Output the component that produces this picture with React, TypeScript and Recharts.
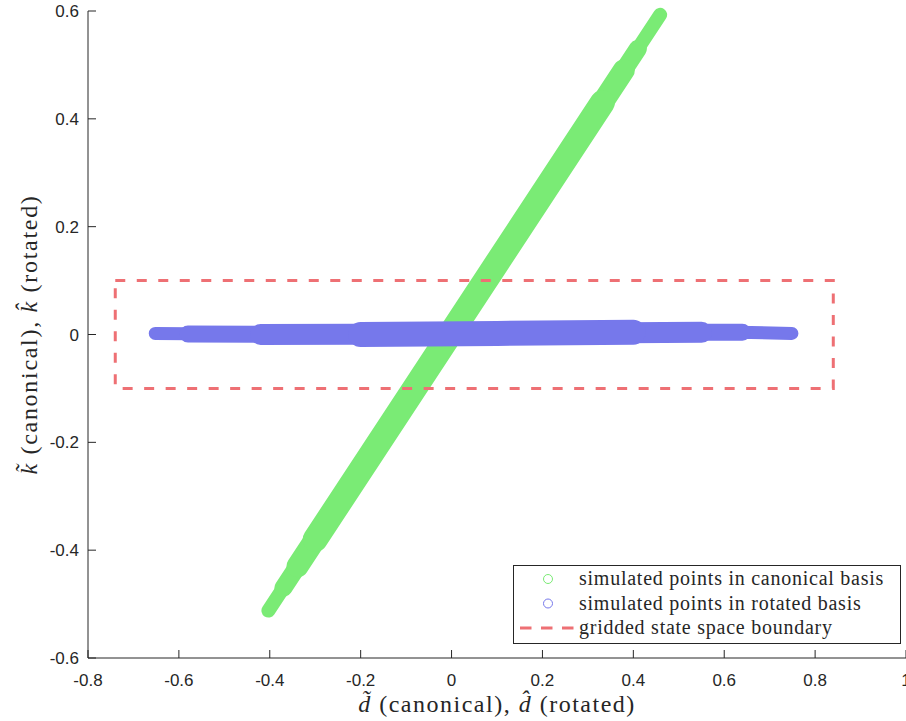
import { ScatterChart, Scatter, XAxis, YAxis, Legend } from "recharts";

const xTicks = [-0.8, -0.6, -0.4, -0.2, 0, 0.2, 0.4, 0.6, 0.8, 1];
const yTicks = [-0.6, -0.4, -0.2, 0, 0.2, 0.4, 0.6];

// canonical basis cloud, traced as nested bands (outer = thin ends, core = thick middle)
const canonicalOuter = [
    [-0.403, -0.512],
    [0.459, 0.593],
];
const canonicalWide = [
    [-0.37, -0.47],
    [0.41, 0.53],
];
const canonicalWider = [
    [-0.339, -0.43],
    [0.379, 0.49],
];
const canonicalCore = [
    [-0.3, -0.38],
    [0.332, 0.43],
];

// rotated basis cloud
const rotatedOuter = [
    [-0.652, 0.002],
    [-0.33, 0.0],
    [0.22, 0.002],
    [0.63, 0.004],
    [0.749, 0.002],
];
const rotatedWide = [
    [-0.58, 0.001],
    [-0.33, 0.0],
    [0.2, 0.002],
    [0.5, 0.004],
    [0.64, 0.004],
];
const rotatedWider = [
    [-0.42, 0.0],
    [0.0, 0.001],
    [0.3, 0.003],
    [0.55, 0.004],
];
const rotatedCore = [
    [-0.2, 0.0],
    [0.1, 0.002],
    [0.4, 0.004],
];

// gridded state space boundary
const boundaryD = [-0.74, 0.84];
const boundaryK = [-0.1, 0.1];

const GREEN = "#7AEB75";
const BLUE = "#7678EB";
const RED = "#EE7074";
const INK = "#262626";

const toPoints = (arr: number[][]) => arr.map(([d, k]) => ({ d, k }));

const boundary = toPoints([
    [boundaryD[0], boundaryK[1]],
    [boundaryD[1], boundaryK[1]],
    [boundaryD[1], boundaryK[0]],
    [boundaryD[0], boundaryK[0]],
    [boundaryD[0], boundaryK[1]],
]);

const noDot = () => <g />;

const XTick = (props: any) => {
    const { x, y, payload } = props;
    return (
        <g>
            <line x1={x} y1={y} x2={x} y2={y - 8} stroke={INK} />
            <text
                x={x}
                y={y + 28}
                textAnchor="middle"
                fontFamily="Liberation Sans, Arial, sans-serif"
                fontSize={17}
                fill={INK}
            >
                {String(payload.value)}
            </text>
        </g>
    );
};

const YTick = (props: any) => {
    const { x, y, payload } = props;
    return (
        <g>
            <line x1={x} y1={y} x2={x + 8} y2={y} stroke={INK} />
            <text
                x={x - 9}
                y={y + 6}
                textAnchor="end"
                fontFamily="Liberation Sans, Arial, sans-serif"
                fontSize={17}
                fill={INK}
            >
                {String(payload.value)}
            </text>
        </g>
    );
};

const XTitle = (props: any) => {
    const { x, y, width } = props.viewBox;
    return (
        <text
            x={x + width / 2}
            y={y + 54}
            textAnchor="middle"
            fontFamily="Liberation Serif, serif"
            fontSize={24}
            letterSpacing={1.5}
            fill={INK}
        >
            <tspan fontStyle="italic">{"d\u0303"}</tspan>
            {" (canonical), "}
            <tspan fontStyle="italic">{"d\u0302"}</tspan>
            {" (rotated)"}
        </text>
    );
};

const YTitle = (props: any) => {
    const { x, y, height } = props.viewBox;
    const cx = x + 9;
    const cy = y + height / 2;
    return (
        <text
            x={cx}
            y={cy}
            transform={`rotate(-90, ${cx}, ${cy})`}
            textAnchor="middle"
            fontFamily="Liberation Serif, serif"
            fontSize={24}
            letterSpacing={1.7}
            fill={INK}
        >
            <tspan fontStyle="italic">{"k\u0303"}</tspan>
            {" (canonical), "}
            <tspan fontStyle="italic">{"k\u0302"}</tspan>
            {" (rotated)"}
        </text>
    );
};

const LegendBox = () => {
    const rows = [
        { label: "simulated points in canonical basis", kind: "circle", color: GREEN },
        { label: "simulated points in rotated basis", kind: "circle", color: BLUE },
        { label: "gridded state space boundary", kind: "dash", color: RED },
    ];
    return (
        <svg width={388} height={79}>
            <rect x={0.5} y={0.5} width={387} height={78} fill="#fff" stroke={INK} />
            {rows.map((r, i) => {
                const cy = 14 + i * 24.5;
                return (
                    <g key={r.label}>
                        {r.kind === "circle" ? (
                            <circle cx={35} cy={cy} r={4.5} fill="none" stroke={r.color} />
                        ) : (
                            <line
                                x1={7}
                                y1={cy}
                                x2={62}
                                y2={cy}
                                stroke={r.color}
                                strokeWidth={3}
                                strokeDasharray="11.5 9.5"
                            />
                        )}
                        <text
                            x={66}
                            y={cy + 6}
                            fontFamily="Liberation Serif, serif"
                            fontSize={20}
                            letterSpacing={0.75}
                            fill={INK}
                        >
                            {r.label}
                        </text>
                    </g>
                );
            })}
        </svg>
    );
};

const band = (data: number[][], color: string, width: number, key: string) => (
    <Scatter
        key={key}
        data={toPoints(data)}
        fill={color}
        shape={noDot}
        line={{ stroke: color, strokeWidth: width, strokeLinecap: "round", strokeLinejoin: "round" }}
        lineType="joint"
        isAnimationActive={false}
    />
);

export default function App() {
    return (
        <div style={{ position: "absolute", left: 0, top: 0, width: 906, height: 721, background: "#fff" }}>
            <ScatterChart width={906} height={721} margin={{ top: 11, right: 0, bottom: 23, left: 28 }}>
                <XAxis
                    type="number"
                    dataKey="d"
                    domain={[-0.8, 1]}
                    ticks={xTicks}
                    interval={0}
                    height={40}
                    tickSize={0}
                    tickMargin={0}
                    tickLine={false}
                    tick={<XTick />}
                    axisLine={{ stroke: INK }}
                    label={XTitle}
                />
                <YAxis
                    type="number"
                    dataKey="k"
                    domain={[-0.6, 0.6]}
                    ticks={yTicks}
                    interval={0}
                    width={60}
                    tickSize={0}
                    tickMargin={0}
                    tickLine={false}
                    tick={<YTick />}
                    axisLine={{ stroke: INK }}
                    label={YTitle}
                />
                {band(canonicalOuter, GREEN, 14, "c1")}
                {band(canonicalWide, GREEN, 18, "c2")}
                {band(canonicalWider, GREEN, 22, "c3")}
                {band(canonicalCore, GREEN, 25, "c4")}
                {band(rotatedOuter, BLUE, 13, "r1")}
                {band(rotatedWide, BLUE, 17, "r2")}
                {band(rotatedWider, BLUE, 21, "r3")}
                {band(rotatedCore, BLUE, 25, "r4")}
                <Scatter
                    data={boundary}
                    fill={RED}
                    shape={noDot}
                    line={{ stroke: RED, strokeWidth: 3, strokeDasharray: "10 11.5" }}
                    lineType="joint"
                    isAnimationActive={false}
                />
                <Legend
                    layout="horizontal"
                    verticalAlign="middle"
                    align="center"
                    content={() => <LegendBox />}
                    wrapperStyle={{ left: 513, top: 565, width: 388, height: 79 }}
                />
            </ScatterChart>
        </div>
    );
}
